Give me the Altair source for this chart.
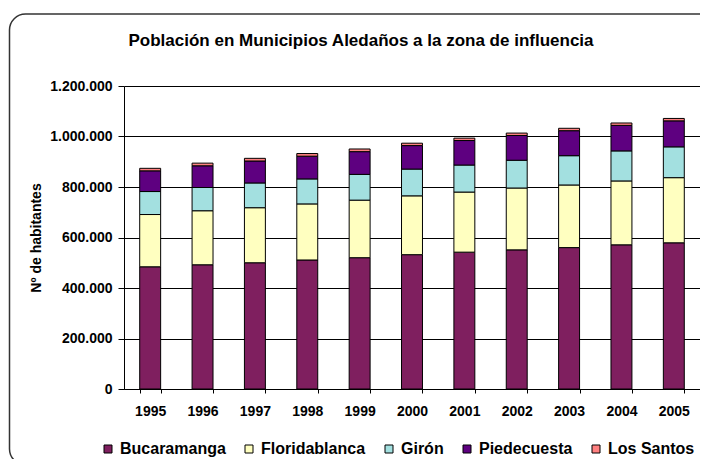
import altair as alt
import pandas as pd

years = ["1995", "1996", "1997", "1998", "1999", "2000", "2001", "2002", "2003", "2004", "2005"]
municipios = ["Bucaramanga", "Floridablanca", "Girón", "Piedecuesta", "Los Santos"]
colores = ["#7F1F5F", "#FFFFC0", "#A3E0E0", "#5E0080", "#FF8080"]
titulo = "Población en Municipios Aledaños a la zona de influencia"

bucaramanga = [484000, 492000, 500000, 511000, 520000, 532000, 542000, 551000, 560000, 571000, 579000]
floridablanca = [207000, 214000, 218000, 222000, 228000, 233000, 238000, 245000, 248000, 253000, 258000]
giron = [91000, 92000, 98000, 99000, 102000, 106000, 107000, 110000, 116000, 119000, 122000]
piedecuesta = [82000, 86000, 87000, 90000, 90000, 93000, 97000, 98000, 99000, 101000, 103000]
los_santos = [10000, 10500, 10500, 10500, 10500, 9500, 9500, 9500, 9500, 9500, 9500]

series = [bucaramanga, floridablanca, giron, piedecuesta, los_santos]
rows = []
for k, (name, vals) in enumerate(zip(municipios, series)):
    for y, v in zip(years, vals):
        rows.append({"Año": y, "Municipio": name, "Habitantes": v, "ord": k})
df = pd.DataFrame(rows)

FONT = "Liberation Sans"

bars = alt.Chart(df).mark_bar(stroke="black", strokeWidth=1).encode(
    x=alt.X("Año:N", sort=years,
            scale=alt.Scale(paddingInner=0.6, paddingOuter=0.3),
            axis=alt.Axis(title=None, labelAngle=0, tickBand="extent",
                          labelFont=FONT, labelFontSize=14, labelFontWeight="bold",
                          labelColor="black", tickColor="black", domainColor="black",
                          tickSize=4, labelPadding=11, grid=False)),
    y=alt.Y("Habitantes:Q",
            scale=alt.Scale(domain=[0, 1200000], nice=False),
            axis=alt.Axis(title="Nº de habitantes", values=[0, 200000, 400000, 600000, 800000, 1000000, 1200000],
                          labelExpr="replace(format(datum.value, ','), /,/g, '.')",
                          labelFont=FONT, labelFontSize=14, labelFontWeight="bold", labelColor="black",
                          titleFont=FONT, titleFontSize=14, titleFontWeight="bold", titleColor="black",
                          titlePadding=6,
                          tickColor="black", domainColor="black", tickSize=6, labelPadding=6,
                          grid=True, gridColor="black", gridWidth=1)),
    color=alt.Color("Municipio:N", sort=municipios,
                    scale=alt.Scale(domain=municipios, range=colores),
                    legend=alt.Legend(title=None, orient="none", legendX=-24, legendY=355,
                                      direction="horizontal", symbolType="square", symbolSize=64,
                                      symbolStrokeColor="black", symbolStrokeWidth=1, padding=0,
                                      labelFont=FONT, labelFontSize=16, labelFontWeight="bold",
                                      labelColor="black", columnPadding=15, labelOffset=4)),
    order=alt.Order("ord:Q", sort="ascending"),
)

frame = alt.Chart(alt.Data(values=[{}])).mark_rect(
    fill=None, stroke="#333333", strokeWidth=1.5, cornerRadius=16
).encode(
    x=alt.value(-114.5), x2=alt.value(600), y=alt.value(-72), y2=alt.value(379)
)

title = alt.Chart(alt.Data(values=[{"t": titulo}])).mark_text(
    font=FONT, fontSize=17, fontWeight="bold", color="black", align="center", baseline="alphabetic"
).encode(
    text="t:N", x=alt.value(237), y=alt.value(-40)
)

chart = alt.layer(frame, bars, title).properties(
    width=576, height=303,
    autosize=alt.AutoSizeParams(type="none"),
    padding={"left": 116, "top": 78, "right": 0, "bottom": 72},
    background="white",
).configure_view(stroke=None)

chart.save("out.html", embed_options={"renderer": "svg", "actions": False})
